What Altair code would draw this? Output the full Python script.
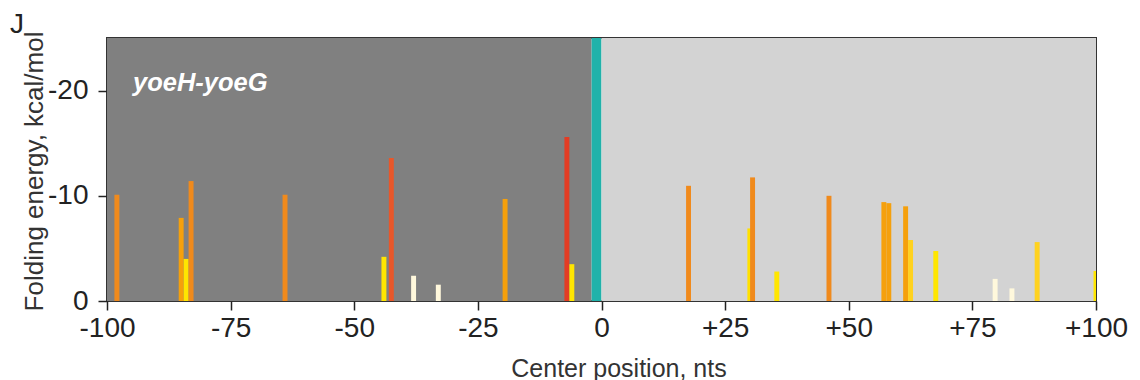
import altair as alt
import pandas as pd

# ---- data ----
positions = [-98, -85, -84, -83, -64, -44, -42.5, -38, -33, -19.5, -7, -6,
             17.6, 30.0, 30.55, 35.45, 46.0, 57.1, 58.1, 61.5, 62.5, 67.6,
             79.6, 83.0, 88.1, 100]
energies = [-10.1, -7.9, -4.0, -11.4, -10.1, -4.2, -13.6, -2.4, -1.55, -9.7, -15.6, -3.5,
            -10.95, -6.9, -11.75, -2.8, -10.0, -9.4, -9.3, -9.0, -5.8, -4.75,
            -2.1, -1.2, -5.6, -2.85]
bar_colors = ["#F08A1C", "#F5A00C", "#FFE600", "#F08A1C", "#F08A1C", "#FFE600",
              "#E8572A", "#FFF8DC", "#FFF8DC", "#F5A00C", "#E33C24", "#FFE600",
              "#F08A1C", "#FFE000", "#F08A1C", "#FFE600", "#F08A1C", "#F5A00C",
              "#F5A00C", "#F5A00C", "#FFD21F", "#FFE600", "#FFF8DC", "#FFF8DC",
              "#FFD21F", "#FFE600"]
bar_width = 1.0

region_start = [-100, -2, 0]
region_end = [-2, 0, 100]
region_color = ["#808080", "#20B2AA", "#D3D3D3"]

x_ticks = [-100, -75, -50, -25, 0, 25, 50, 75, 100]
y_ticks = [0, -10, -20]
panel_title = "yoeH-yoeG"
panel_letter = "J"
x_title = "Center position, nts"
y_title = "Folding energy, kcal/mol"

W, H = 989, 263

bars_df = pd.DataFrame({
    "left": [p - bar_width / 2 for p in positions],
    "right": [p + bar_width / 2 for p in positions],
    "energy": energies,
    "zero": [0] * len(positions),
    "color": bar_colors,
})
bg_df = pd.DataFrame({"start": region_start, "end": region_end, "color": region_color})

xscale = alt.Scale(domain=[-100, 100], nice=False, zero=False)
yscale = alt.Scale(domain=[0, -25], nice=False, zero=False)

xaxis = alt.Axis(
    values=x_ticks,
    labelExpr="datum.value > 0 ? '+' + datum.value : (datum.value < 0 ? '-' + abs(datum.value) : '0')",
    labelFont="Liberation Sans", labelFontSize=28, labelColor="#222",
    labelPadding=4, labelOverlap=False, labelFlush=False,
    tickSize=9, tickWidth=1.5, tickColor="#222",
    domain=False, grid=False,
    title=x_title, titleFont="Liberation Sans", titleFontSize=25,
    titleFontWeight="normal", titleColor="#333",
    titleX=511.5, titleY=75, titleAlign="center", titleBaseline="alphabetic",
)
yaxis = alt.Axis(
    values=y_ticks,
    labelExpr="datum.value == 0 ? '0' : '-' + abs(datum.value)",
    labelFont="Liberation Sans", labelFontSize=28, labelColor="#222",
    labelPadding=10, labelFlush=False,
    tickSize=9, tickWidth=1.5, tickColor="#222",
    domain=False, grid=False,
    title=y_title, titleFont="Liberation Sans", titleFontSize=26,
    titleFontWeight="normal", titleColor="#333",
    titleX=-73, titleY=133, titleAngle=270, titleAlign="center", titleBaseline="middle",
)

bg = alt.Chart(bg_df).mark_rect().encode(
    x=alt.X("start:Q", scale=xscale, axis=xaxis),
    x2="end:Q",
    y=alt.value(0),
    y2=alt.value(H),
    color=alt.Color("color:N", scale=None),
)

bars = alt.Chart(bars_df).mark_rect(clip=True).encode(
    x=alt.X("left:Q", scale=xscale),
    x2="right:Q",
    y=alt.Y("energy:Q", scale=yscale, axis=yaxis),
    y2="zero:Q",
    color=alt.Color("color:N", scale=None),
)

title_txt = alt.Chart(pd.DataFrame({"t": [panel_title]})).mark_text(
    font="Liberation Sans", fontSize=25.5, fontWeight="bold", fontStyle="italic",
    color="white", align="left", baseline="alphabetic",
).encode(text="t:N", x=alt.value(26), y=alt.value(53))

letter_txt = alt.Chart(pd.DataFrame({"t": [panel_letter]})).mark_text(
    font="Liberation Sans", fontSize=28, color="#222", align="left", baseline="alphabetic",
).encode(text="t:N", x=alt.value(-97), y=alt.value(-5))

chart = alt.layer(bg, bars, title_txt, letter_txt).properties(
    width=W, height=H,
    autosize=alt.AutoSizeParams(type="none"),
    padding={"left": 99, "top": 30, "right": 36, "bottom": 79},
).configure_view(stroke="#333", strokeWidth=2)

chart.save("out.html", embed_options={"renderer": "svg", "actions": False})
